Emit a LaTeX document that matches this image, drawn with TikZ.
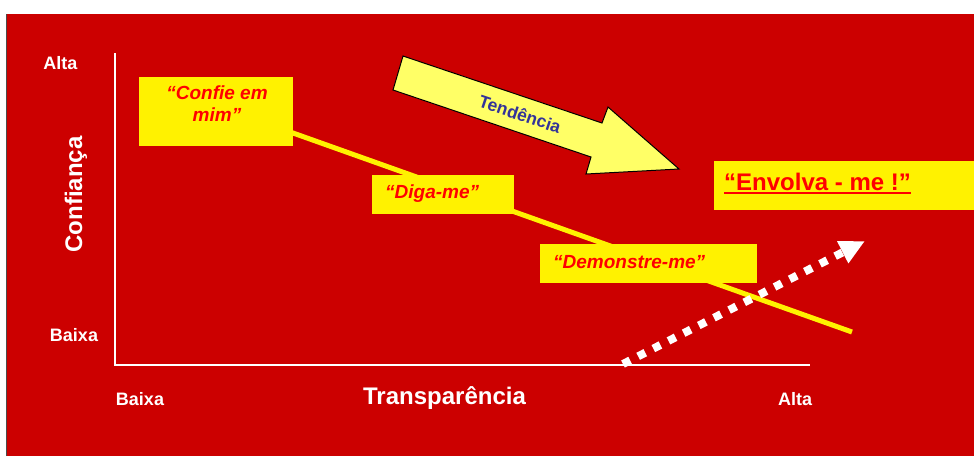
\documentclass[tikz,border=0pt]{standalone}
\usepackage{xcolor}
\usepackage{fontspec}
\setmainfont{Liberation Sans}
\usetikzlibrary{arrows.meta, positioning}

\definecolor{slidered}{HTML}{CC0000}
\definecolor{boxred}{HTML}{FF0000}
\definecolor{paleyellow}{HTML}{FFFF66}
\definecolor{trendblue}{HTML}{333399}

\begin{document}
\begin{tikzpicture}[x=1pt, y=-1pt,
			axis/.style={draw=white, line width=1.5pt},
			axlabel/.style={text=white, font=\bfseries\fontsize{18}{20}\selectfont, inner sep=0pt},
			axtitle/.style={text=white, font=\bfseries\fontsize{24}{26}\selectfont, inner sep=0pt},
			ybox/.style={fill=yellow, inner sep=0pt},
			boxtext/.style={text=boxred, font=\bfseries\itshape\fontsize{19}{22}\selectfont, inner sep=0pt}]

			\useasboundingbox (0,0) rectangle (974,456);
			\fill[white] (0,0) rectangle (974,456);
			\fill[slidered] (6,14) rectangle (974,456);
			\draw[gray!60!black, line width=1.5pt] (6.5,14) -- (6.5,456);

			% axes
			\coordinate (origin) at (115,365);
			\coordinate (ytop) at (115,53);
			\coordinate (xend) at (810,365);
			\draw[axis] (ytop) -- (origin) -- (xend);

			\node[axlabel, anchor=base] (yhigh) at (60.5,69) {Alta};
			\node[axlabel, anchor=base] (ylow) at (74,341) {Baixa};
			\node[axlabel, anchor=base] (xlow) at (140,405) {Baixa};
			\node[axlabel, anchor=base] (xhigh) at (795,405) {Alta};
			\node[axtitle, anchor=base] (xtitle) at (444.5,404) {Transparência};
			\node[axtitle, rotate=90] (ytitle) at (76,194.5) {Confiança};

			% yellow line behind the boxes
			\coordinate (lstart) at (216,105.6);
			\coordinate (lend) at (852,332);
			\draw[yellow, line width=5pt] (lstart) -- (lend);

			% boxes
			\node[ybox, minimum width=154pt, minimum height=69pt] (confie) at (216,111.5) {};
			\node[boxtext, align=center] (confietext) at (217,104) {“Confie em\\mim”};
			\node[ybox, minimum width=142pt, minimum height=39pt] (diga) at (443,194.5) {};
			\node[boxtext, anchor=base west] (digatext) at (385,198) {“Diga-me”};
			\node[ybox, minimum width=217pt, minimum height=39pt] (demo) at (648.5,263.5) {};
			\node[boxtext, anchor=base west] (demotext) at (553,268) {“Demonstre-me”};
			\node[ybox, minimum width=260pt, minimum height=49pt] (envolva) at (844,185.5) {};
			\node[text=boxred, font=\bfseries\fontsize{24}{26}\selectfont, inner sep=0pt, anchor=base west] (envtext) at (724,190) {“Envolva - me !”};
			\draw[boxred, line width=2.5pt] ([yshift=-3pt]envtext.base west) -- ([yshift=-3pt]envtext.base east);

			% tendency arrow
			\draw[fill=paleyellow, draw=black, line width=1pt, line join=miter]
				(403,56) -- (602,123) -- (608,107) -- (679,169) -- (586,174) -- (591,157) -- (393,90) -- cycle;
			\node[text=trendblue, font=\bfseries\fontsize{17.5}{20}\selectfont, rotate=-18.6] (trend) at (520,114) {Tendência};

			% dotted white arrow
			\coordinate (wstart) at (623,364);
			\coordinate (wtip) at (865,241);
			\draw[white, line width=8pt, dash pattern=on 8pt off 9pt,
				-{Triangle[length=25pt, width=23pt]}] (wstart) -- (wtip);
		\end{tikzpicture}
\end{document}
